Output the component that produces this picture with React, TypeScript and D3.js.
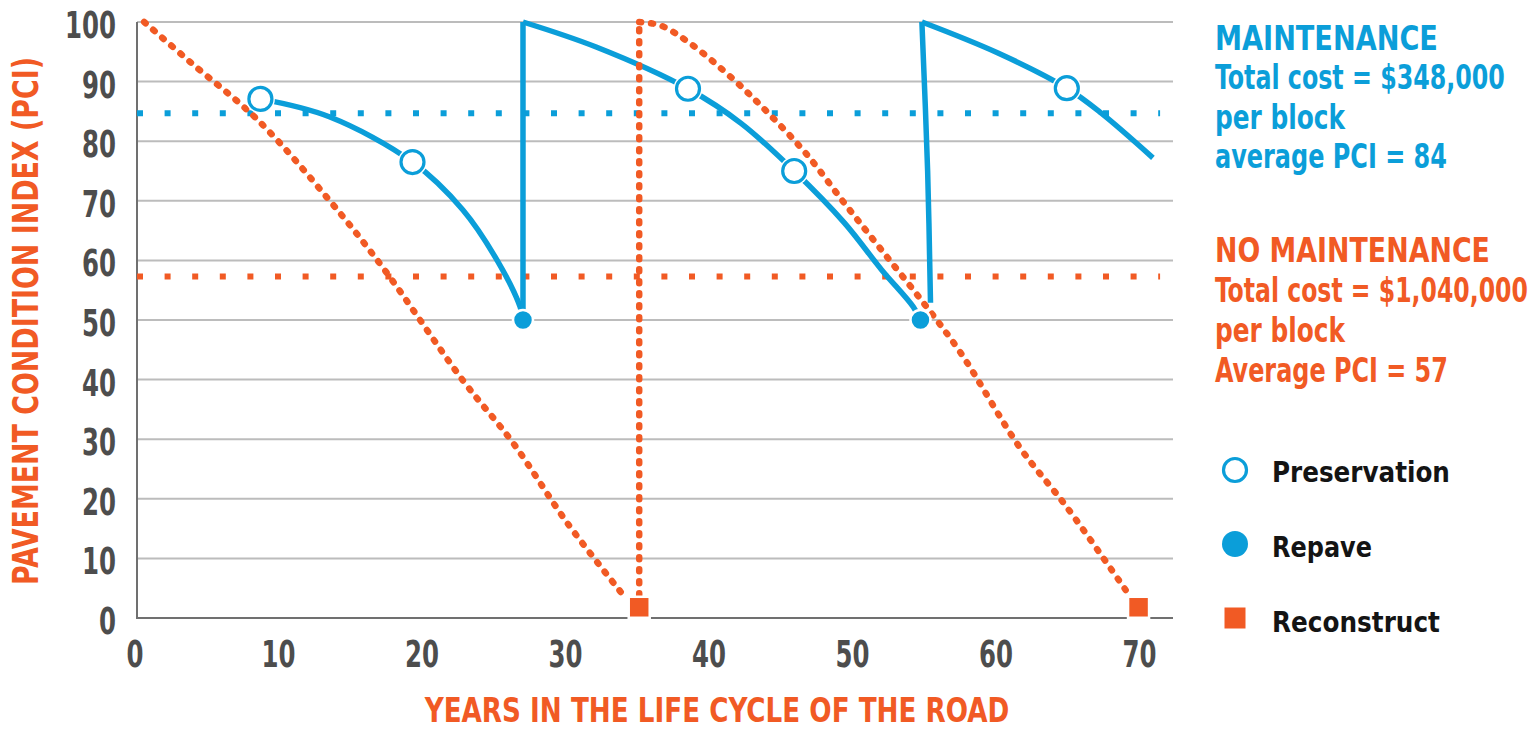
import React, { useLayoutEffect, useRef, useState } from "react";
import * as d3 from "d3";

// chart values
const yTicks = [0, 10, 20, 30, 40, 50, 60, 70, 80, 90, 100];
const xTicks = [0, 10, 20, 30, 40, 50, 60, 70];

// maintenance (blue) deterioration curves, [year, PCI]
const maintCycle1 = [[8.6, 87.1], [13.4, 84.1], [19.2, 76.5], [22.7, 68.5], [25.1, 60], [26.7, 52.2], [26.9, 50]];
const maintRepave1 = [[26.9, 50], [26.9, 100]];
const maintCycle2 = [[26.9, 100], [32, 95.8], [38.4, 88.8], [42.1, 83], [45.8, 75], [49.3, 66.3], [51.9, 58.4], [54.1, 52.2], [54.6, 50]];
const maintRepave2 = [[55.3, 52.9], [55.1, 75], [54.7, 100]];
const maintCycle3 = [[54.7, 100], [60.0, 94.8], [64.8, 88.9], [67.2, 84.7], [70.8, 77.2]];

// no maintenance (orange) curves
const noMaintCycle1 = [[0.5, 100], [3.7, 93.3], [8.4, 83.6], [13.4, 70.1], [17.1, 58.9], [22.7, 39.9], [26.2, 29.4], [30.0, 15.9], [34.0, 3.5]];
const noMaintRebuild = [[35, 1.8], [35, 100]];
const noMaintCycle2 = [[35, 100], [36.5, 99.4], [38.5, 96.5], [41.6, 90.3], [44.0, 84.7], [46.6, 78], [49.3, 69.6], [51.9, 61.7], [54.8, 52.9], [57.4, 44.5], [61.5, 28.7], [64.8, 18.6], [68.9, 4.7]];

const preservationPts = [[8.6, 87.1], [19.2, 76.5], [38.4, 88.8], [45.8, 75], [64.8, 88.9]];
const repavePts = [[26.9, 50], [54.6, 50]];
const reconstructPts = [[35, 1.8], [69.8, 1.8]];

const maintAvg = 84.7;
const noMaintAvg = 57.3;
const avgSpan = [0, 71.3];

const maintText = ["MAINTENANCE", "Total cost = $348,000", "per block", "average PCI = 84"];
const maintWidths = [223, 290, 130, 232];
const noMaintText = ["NO MAINTENANCE", "Total cost = $1,040,000", "per block", "Average PCI = 57"];
const noMaintWidths = [275, 313, 130, 233];
const legendItems = ["Preservation", "Repave", "Reconstruct"];
const legendWidths = [178, 100, 168];

const BLUE = "#0b9ed9";
const ORANGE = "#f15a24";
const FONT = "'Liberation Sans Narrow', 'Arial Narrow', 'DejaVu Sans Condensed', sans-serif";

const W = 1539;
const H = 730;

// text squeezed horizontally to a given width (the original uses a condensed face)
function FitText({ x, y, width, rotate = 0, anchor = "start", children, ...rest }: any) {
  const ref = useRef<SVGTextElement>(null);
  const [sx, setSx] = useState(1);
  useLayoutEffect(() => {
    if (!ref.current) return;
    const len = ref.current.getComputedTextLength();
    if (len > 0) setSx(width / len);
  }, [width, children]);
  return (
    <text
      ref={ref}
      transform={`translate(${x},${y}) rotate(${rotate}) scale(${sx},1)`}
      textAnchor={anchor}
      {...rest}
    >
      {children}
    </text>
  );
}

export default function App() {
  const x = d3.scaleLinear().domain([0, 72.2]).range([137, 1173]);
  const y = d3.scaleLinear().domain([0, 100]).range([618, 22]);

  const curve = d3
    .line<number[]>()
    .x((d) => x(d[0]))
    .y((d) => y(d[1]))
    .curve(d3.curveCatmullRom.alpha(0.5));
  const straight = d3
    .line<number[]>()
    .x((d) => x(d[0]))
    .y((d) => y(d[1]));

  const orangeDots = {
    fill: "none",
    stroke: ORANGE,
    strokeWidth: 6.5,
    strokeLinecap: "round" as const,
    strokeDasharray: "2 10",
  };
  const blueLine = {
    fill: "none",
    stroke: BLUE,
    strokeWidth: 5.5,
    strokeLinejoin: "round" as const,
  };

  return (
    <svg
      width={W}
      height={H}
      style={{ position: "absolute", left: 0, top: 0, background: "#fff" }}
      fontFamily={FONT}
      fontWeight="bold"
    >
      {/* grid */}
      {yTicks.slice(1).map((t) => (
        <line key={t} x1={x(0)} x2={x(72.2)} y1={y(t)} y2={y(t)} stroke="#bcbcbc" strokeWidth={2} />
      ))}
      <line x1={x(0)} x2={x(0)} y1={y(100)} y2={y(0) + 1} stroke="#707070" strokeWidth={2} />
      <line x1={x(0)} x2={x(72.2)} y1={y(0)} y2={y(0)} stroke="#707070" strokeWidth={2} />

      {/* tick labels */}
      {yTicks.map((t) => (
        <FitText key={t} x={116} y={y(t) + 16} width={String(t).length * 17} anchor="end" fontSize={37} fill="#4d4d4d">
          {t}
        </FitText>
      ))}
      {xTicks.map((t) => (
        <FitText key={t} x={x(t) - 2} y={667} width={String(t).length * 17} anchor="middle" fontSize={37} fill="#4d4d4d">
          {t}
        </FitText>
      ))}

      {/* axis titles */}
      <FitText x={37.5} y={321} rotate={-90} width={528} anchor="middle" fontSize={36} fill={ORANGE}>
        PAVEMENT CONDITION INDEX (PCI)
      </FitText>
      <FitText x={717} y={722} width={585} anchor="middle" fontSize={33} fill={ORANGE}>
        YEARS IN THE LIFE CYCLE OF THE ROAD
      </FitText>

      {/* average lines */}
      <line
        x1={x(avgSpan[0])}
        x2={x(avgSpan[1])}
        y1={y(maintAvg)}
        y2={y(maintAvg)}
        stroke={BLUE}
        strokeWidth={6}
        strokeDasharray="6 21.6"
      />
      <line
        x1={x(avgSpan[0])}
        x2={x(avgSpan[1])}
        y1={y(noMaintAvg)}
        y2={y(noMaintAvg)}
        stroke={ORANGE}
        strokeWidth={6}
        strokeDasharray="6 21.6"
      />

      {/* maintenance curve */}
      {[maintCycle1, maintCycle2, maintCycle3].map((c, i) => (
        <path key={i} d={curve(c) || ""} {...blueLine} />
      ))}
      <path d={straight(maintRepave1) || ""} {...blueLine} />
      <path d={curve(maintRepave2) || ""} {...blueLine} />

      {/* no maintenance curve */}
      <path d={curve(noMaintCycle1) || ""} {...orangeDots} />
      <path d={straight(noMaintRebuild) || ""} {...orangeDots} />
      <path d={curve(noMaintCycle2) || ""} {...orangeDots} />

      {/* markers */}
      {preservationPts.map((p, i) => (
        <g key={i}>
          <circle cx={x(p[0])} cy={y(p[1])} r={14.5} fill="#fff" />
          <circle cx={x(p[0])} cy={y(p[1])} r={11.5} fill="#fff" stroke={BLUE} strokeWidth={3.2} />
        </g>
      ))}
      {repavePts.map((p, i) => (
        <circle key={i} cx={x(p[0])} cy={y(p[1])} r={10} fill={BLUE} stroke="#fff" strokeWidth={2.5} />
      ))}
      {reconstructPts.map((p, i) => (
        <rect
          key={i}
          x={x(p[0]) - 10.5}
          y={y(p[1]) - 10.5}
          width={21}
          height={21}
          fill={ORANGE}
          stroke="#fff"
          strokeWidth={2.5}
        />
      ))}

      {/* side notes */}
      {maintText.map((t, i) => (
        <FitText key={t} x={1215} y={50 + i * 39.3} width={maintWidths[i]} fontSize={33} fill={BLUE}>
          {t}
        </FitText>
      ))}
      {noMaintText.map((t, i) => (
        <FitText key={t + i} x={1215} y={262 + i * 40} width={noMaintWidths[i]} fontSize={33} fill={ORANGE}>
          {t}
        </FitText>
      ))}

      {/* legend */}
      <circle cx={1235} cy={470} r={11.5} fill="#fff" stroke={BLUE} strokeWidth={3.2} />
      <circle cx={1235} cy={544} r={13} fill={BLUE} />
      <rect x={1224.5} y={607.5} width={21} height={21} fill={ORANGE} />
      {legendItems.map((t, i) => (
        <FitText key={t} x={1272} y={482 + i * 75} width={legendWidths[i]} fontSize={29} fill="#141414">
          {t}
        </FitText>
      ))}
    </svg>
  );
}
